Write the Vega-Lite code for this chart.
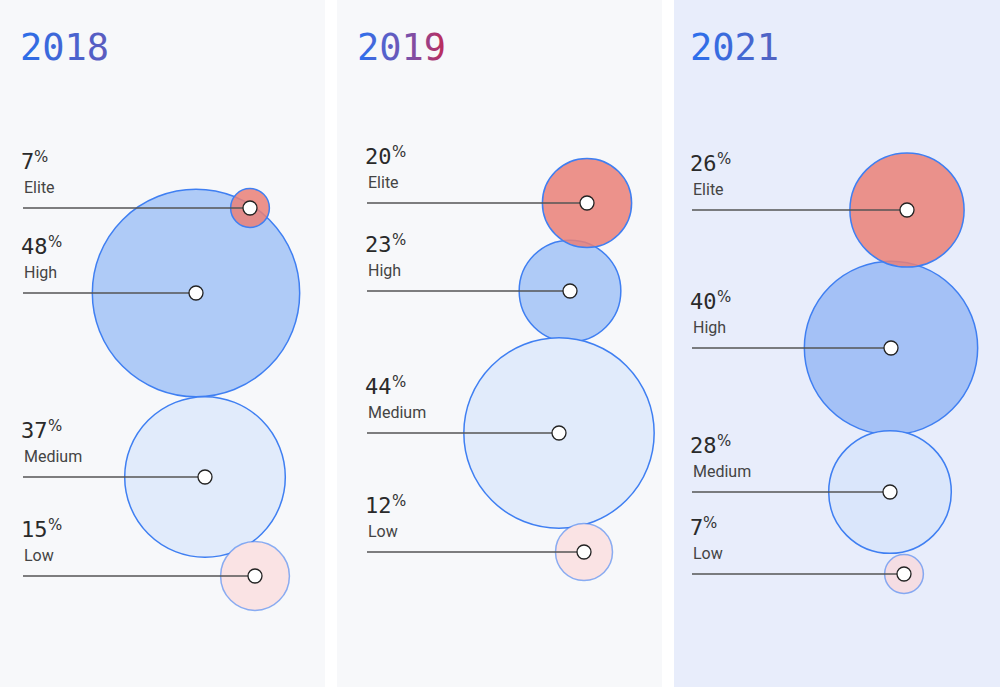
{
  "$schema": "https://vega.github.io/schema/vega-lite/v6.json",
  "background": "white",
  "padding": 0,
  "spacing": 12,
  "bounds": "flush",
  "config": {"view": {"stroke": null}},
  "resolve": {"scale": {"color": "independent", "size": "shared"}},
  "datasets": {
    "rows": [
      {"year": "2018", "level": "Elite", "pct": 7, "cx": 250, "cy": 208},
      {"year": "2018", "level": "High", "pct": 48, "cx": 196, "cy": 293},
      {"year": "2018", "level": "Medium", "pct": 37, "cx": 205, "cy": 477},
      {"year": "2018", "level": "Low", "pct": 15, "cx": 255, "cy": 576},
      {"year": "2019", "level": "Elite", "pct": 20, "cx": 250, "cy": 203},
      {"year": "2019", "level": "High", "pct": 23, "cx": 233, "cy": 291},
      {"year": "2019", "level": "Medium", "pct": 44, "cx": 222, "cy": 433},
      {"year": "2019", "level": "Low", "pct": 12, "cx": 247, "cy": 552},
      {"year": "2021", "level": "Elite", "pct": 26, "cx": 233, "cy": 210},
      {"year": "2021", "level": "High", "pct": 40, "cx": 217, "cy": 348},
      {"year": "2021", "level": "Medium", "pct": 28, "cx": 216, "cy": 492},
      {"year": "2021", "level": "Low", "pct": 7, "cx": 230, "cy": 574}
    ],
    "years": [{"year": "2018"}, {"year": "2019"}, {"year": "2021"}]
  },
  "hconcat": [
    {
      "width": 325, "height": 687,
      "view": {"fill": "#f7f8fa", "stroke": null},
      "data": {"name": "rows"},
      "transform": [{"filter": "datum.year == '2018'"}],
      "layer": [
        {
          "transform": [{"filter": "datum.level == 'High' || datum.level == 'Medium'"}],
          "mark": {"type": "circle", "opacity": 1, "fillOpacity": 1, "stroke": "#3f7ff2", "strokeWidth": 1.5},
          "encoding": {
            "x": {"field": "cx", "type": "quantitative", "scale": {"domain": [0, 325], "nice": false, "zero": false}, "axis": null},
            "y": {"field": "cy", "type": "quantitative", "scale": {"domain": [0, 687], "nice": false, "zero": false, "reverse": true}, "axis": null},
            "size": {"field": "pct", "type": "quantitative", "scale": {"type": "pow", "exponent": 2, "domain": [0, 48], "range": [600, 43000]}, "legend": null},
            "color": {"field": "level", "type": "nominal", "scale": {"domain": ["High", "Medium", "Low"], "range": ["#afcbf7", "#e1ebfb", "#fae3e4"]}, "legend": null}
          }
        },
        {
          "transform": [{"filter": "datum.level == 'Low'"}],
          "mark": {"type": "circle", "opacity": 1, "fillOpacity": 1, "stroke": "#3f7ff2", "strokeOpacity": 0.6, "strokeWidth": 1.5},
          "encoding": {
            "x": {"field": "cx", "type": "quantitative"},
            "y": {"field": "cy", "type": "quantitative"},
            "size": {"field": "pct", "type": "quantitative"},
            "color": {"field": "level", "type": "nominal"}
          }
        },
        {
          "transform": [{"filter": "datum.level == 'Elite'"}],
          "mark": {"type": "circle", "opacity": 1, "color": "#ea8077", "fillOpacity": 0.85, "stroke": "#3f7ff2", "strokeWidth": 1.5},
          "encoding": {
            "x": {"field": "cx", "type": "quantitative"},
            "y": {"field": "cy", "type": "quantitative"},
            "size": {"field": "pct", "type": "quantitative"}
          }
        },
        {
          "mark": {"type": "rule", "color": "#555555", "strokeWidth": 1.6},
          "encoding": {
            "x": {"field": "cx", "type": "quantitative"},
            "x2": {"datum": 23},
            "y": {"field": "cy", "type": "quantitative"}
          }
        },
        {
          "mark": {"type": "circle", "fill": "white", "opacity": 1, "stroke": "#222222", "strokeWidth": 1.3, "size": 196},
          "encoding": {
            "x": {"field": "cx", "type": "quantitative"},
            "y": {"field": "cy", "type": "quantitative"}
          }
        },
        {
          "mark": {"type": "text", "align": "left", "baseline": "alphabetic", "dy": -39, "font": "DejaVu Sans Mono", "fontSize": 22, "color": "#2a2a2a"},
          "encoding": {
            "x": {"datum": 21, "type": "quantitative"},
            "y": {"field": "cy", "type": "quantitative"},
            "text": {"field": "pct", "type": "quantitative"}
          }
        },
        {
          "transform": [{"filter": "datum.pct >= 10"}],
          "mark": {"type": "text", "align": "left", "baseline": "alphabetic", "dy": -46, "font": "DejaVu Sans", "fontSize": 15, "color": "#333333"},
          "encoding": {
            "x": {"datum": 48, "type": "quantitative"},
            "y": {"field": "cy", "type": "quantitative"},
            "text": {"value": "%"}
          }
        },
        {
          "transform": [{"filter": "datum.pct < 10"}],
          "mark": {"type": "text", "align": "left", "baseline": "alphabetic", "dy": -46, "font": "DejaVu Sans", "fontSize": 15, "color": "#333333"},
          "encoding": {
            "x": {"datum": 34, "type": "quantitative"},
            "y": {"field": "cy", "type": "quantitative"},
            "text": {"value": "%"}
          }
        },
        {
          "mark": {"type": "text", "align": "left", "baseline": "alphabetic", "dy": -15, "font": "Roboto", "fontSize": 16, "color": "#444444"},
          "encoding": {
            "x": {"datum": 24, "type": "quantitative"},
            "y": {"field": "cy", "type": "quantitative"},
            "text": {"field": "level", "type": "nominal"}
          }
        },
        {
          "data": {"name": "years"},
          "transform": [{"filter": "datum.year == '2018'"}],
          "mark": {"type": "text", "align": "left", "baseline": "alphabetic", "font": "DejaVu Sans Mono", "fontSize": 37,
            "color": {"gradient": "linear", "x1": 0, "y1": 0, "x2": 1, "y2": 0, "stops": [{"offset": 0, "color": "#2b6fea"}, {"offset": 1, "color": "#5d5bbd"}]}},
          "encoding": {
            "x": {"datum": 20, "type": "quantitative"},
            "y": {"datum": 60, "type": "quantitative"},
            "text": {"field": "year", "type": "nominal"}
          }
        }
      ]
    },
    {
      "width": 325, "height": 687,
      "view": {"fill": "#f7f8fa", "stroke": null},
      "data": {"name": "rows"},
      "transform": [{"filter": "datum.year == '2019'"}],
      "layer": [
        {
          "transform": [{"filter": "datum.level == 'High' || datum.level == 'Medium'"}],
          "mark": {"type": "circle", "opacity": 1, "fillOpacity": 1, "stroke": "#3f7ff2", "strokeWidth": 1.5},
          "encoding": {
            "x": {"field": "cx", "type": "quantitative", "scale": {"domain": [0, 325], "nice": false, "zero": false}, "axis": null},
            "y": {"field": "cy", "type": "quantitative", "scale": {"domain": [0, 687], "nice": false, "zero": false, "reverse": true}, "axis": null},
            "size": {"field": "pct", "type": "quantitative", "scale": {"type": "pow", "exponent": 2, "domain": [0, 48], "range": [600, 43000]}, "legend": null},
            "color": {"field": "level", "type": "nominal", "scale": {"domain": ["High", "Medium", "Low"], "range": ["#afcbf7", "#e1ebfb", "#fae3e4"]}, "legend": null}
          }
        },
        {
          "transform": [{"filter": "datum.level == 'Low'"}],
          "mark": {"type": "circle", "opacity": 1, "fillOpacity": 1, "stroke": "#3f7ff2", "strokeOpacity": 0.6, "strokeWidth": 1.5},
          "encoding": {
            "x": {"field": "cx", "type": "quantitative"},
            "y": {"field": "cy", "type": "quantitative"},
            "size": {"field": "pct", "type": "quantitative"},
            "color": {"field": "level", "type": "nominal"}
          }
        },
        {
          "transform": [{"filter": "datum.level == 'Elite'"}],
          "mark": {"type": "circle", "opacity": 1, "color": "#ea8077", "fillOpacity": 0.85, "stroke": "#3f7ff2", "strokeWidth": 1.5},
          "encoding": {
            "x": {"field": "cx", "type": "quantitative"},
            "y": {"field": "cy", "type": "quantitative"},
            "size": {"field": "pct", "type": "quantitative"}
          }
        },
        {
          "mark": {"type": "rule", "color": "#555555", "strokeWidth": 1.6},
          "encoding": {
            "x": {"field": "cx", "type": "quantitative"},
            "x2": {"datum": 30},
            "y": {"field": "cy", "type": "quantitative"}
          }
        },
        {
          "mark": {"type": "circle", "fill": "white", "opacity": 1, "stroke": "#222222", "strokeWidth": 1.3, "size": 196},
          "encoding": {
            "x": {"field": "cx", "type": "quantitative"},
            "y": {"field": "cy", "type": "quantitative"}
          }
        },
        {
          "mark": {"type": "text", "align": "left", "baseline": "alphabetic", "dy": -39, "font": "DejaVu Sans Mono", "fontSize": 22, "color": "#2a2a2a"},
          "encoding": {
            "x": {"datum": 28, "type": "quantitative"},
            "y": {"field": "cy", "type": "quantitative"},
            "text": {"field": "pct", "type": "quantitative"}
          }
        },
        {
          "transform": [{"filter": "datum.pct >= 10"}],
          "mark": {"type": "text", "align": "left", "baseline": "alphabetic", "dy": -46, "font": "DejaVu Sans", "fontSize": 15, "color": "#333333"},
          "encoding": {
            "x": {"datum": 55, "type": "quantitative"},
            "y": {"field": "cy", "type": "quantitative"},
            "text": {"value": "%"}
          }
        },
        {
          "transform": [{"filter": "datum.pct < 10"}],
          "mark": {"type": "text", "align": "left", "baseline": "alphabetic", "dy": -46, "font": "DejaVu Sans", "fontSize": 15, "color": "#333333"},
          "encoding": {
            "x": {"datum": 41, "type": "quantitative"},
            "y": {"field": "cy", "type": "quantitative"},
            "text": {"value": "%"}
          }
        },
        {
          "mark": {"type": "text", "align": "left", "baseline": "alphabetic", "dy": -15, "font": "Roboto", "fontSize": 16, "color": "#444444"},
          "encoding": {
            "x": {"datum": 31, "type": "quantitative"},
            "y": {"field": "cy", "type": "quantitative"},
            "text": {"field": "level", "type": "nominal"}
          }
        },
        {
          "data": {"name": "years"},
          "transform": [{"filter": "datum.year == '2019'"}],
          "mark": {"type": "text", "align": "left", "baseline": "alphabetic", "font": "DejaVu Sans Mono", "fontSize": 37,
            "color": {"gradient": "linear", "x1": 0, "y1": 0, "x2": 1, "y2": 0, "stops": [{"offset": 0, "color": "#2a70f0"}, {"offset": 0.35, "color": "#5a60c8"}, {"offset": 0.7, "color": "#8c4898"}, {"offset": 1, "color": "#c02a55"}]}},
          "encoding": {
            "x": {"datum": 20, "type": "quantitative"},
            "y": {"datum": 60, "type": "quantitative"},
            "text": {"field": "year", "type": "nominal"}
          }
        }
      ]
    },
    {
      "width": 326, "height": 687,
      "view": {"fill": "#e8edfb", "stroke": null},
      "data": {"name": "rows"},
      "transform": [{"filter": "datum.year == '2021'"}],
      "layer": [
        {
          "transform": [{"filter": "datum.level == 'High' || datum.level == 'Medium'"}],
          "mark": {"type": "circle", "opacity": 1, "fillOpacity": 1, "stroke": "#3f7ff2", "strokeWidth": 1.5},
          "encoding": {
            "x": {"field": "cx", "type": "quantitative", "scale": {"domain": [0, 326], "nice": false, "zero": false}, "axis": null},
            "y": {"field": "cy", "type": "quantitative", "scale": {"domain": [0, 687], "nice": false, "zero": false, "reverse": true}, "axis": null},
            "size": {"field": "pct", "type": "quantitative", "scale": {"type": "pow", "exponent": 2, "domain": [0, 48], "range": [600, 43000]}, "legend": null},
            "color": {"field": "level", "type": "nominal", "scale": {"domain": ["High", "Medium", "Low"], "range": ["#a4c1f6", "#dae6fb", "#f5dde3"]}, "legend": null}
          }
        },
        {
          "transform": [{"filter": "datum.level == 'Low'"}],
          "mark": {"type": "circle", "opacity": 1, "fillOpacity": 1, "stroke": "#3f7ff2", "strokeOpacity": 0.6, "strokeWidth": 1.5},
          "encoding": {
            "x": {"field": "cx", "type": "quantitative"},
            "y": {"field": "cy", "type": "quantitative"},
            "size": {"field": "pct", "type": "quantitative"},
            "color": {"field": "level", "type": "nominal"}
          }
        },
        {
          "transform": [{"filter": "datum.level == 'Elite'"}],
          "mark": {"type": "circle", "opacity": 1, "color": "#ea8077", "fillOpacity": 0.85, "stroke": "#3f7ff2", "strokeWidth": 1.5},
          "encoding": {
            "x": {"field": "cx", "type": "quantitative"},
            "y": {"field": "cy", "type": "quantitative"},
            "size": {"field": "pct", "type": "quantitative"}
          }
        },
        {
          "mark": {"type": "rule", "color": "#555555", "strokeWidth": 1.6},
          "encoding": {
            "x": {"field": "cx", "type": "quantitative"},
            "x2": {"datum": 18},
            "y": {"field": "cy", "type": "quantitative"}
          }
        },
        {
          "mark": {"type": "circle", "fill": "white", "opacity": 1, "stroke": "#222222", "strokeWidth": 1.3, "size": 196},
          "encoding": {
            "x": {"field": "cx", "type": "quantitative"},
            "y": {"field": "cy", "type": "quantitative"}
          }
        },
        {
          "mark": {"type": "text", "align": "left", "baseline": "alphabetic", "dy": -39, "font": "DejaVu Sans Mono", "fontSize": 22, "color": "#2a2a2a"},
          "encoding": {
            "x": {"datum": 16, "type": "quantitative"},
            "y": {"field": "cy", "type": "quantitative"},
            "text": {"field": "pct", "type": "quantitative"}
          }
        },
        {
          "transform": [{"filter": "datum.pct >= 10"}],
          "mark": {"type": "text", "align": "left", "baseline": "alphabetic", "dy": -46, "font": "DejaVu Sans", "fontSize": 15, "color": "#333333"},
          "encoding": {
            "x": {"datum": 43, "type": "quantitative"},
            "y": {"field": "cy", "type": "quantitative"},
            "text": {"value": "%"}
          }
        },
        {
          "transform": [{"filter": "datum.pct < 10"}],
          "mark": {"type": "text", "align": "left", "baseline": "alphabetic", "dy": -46, "font": "DejaVu Sans", "fontSize": 15, "color": "#333333"},
          "encoding": {
            "x": {"datum": 29, "type": "quantitative"},
            "y": {"field": "cy", "type": "quantitative"},
            "text": {"value": "%"}
          }
        },
        {
          "mark": {"type": "text", "align": "left", "baseline": "alphabetic", "dy": -15, "font": "Roboto", "fontSize": 16, "color": "#444444"},
          "encoding": {
            "x": {"datum": 19, "type": "quantitative"},
            "y": {"field": "cy", "type": "quantitative"},
            "text": {"field": "level", "type": "nominal"}
          }
        },
        {
          "data": {"name": "years"},
          "transform": [{"filter": "datum.year == '2021'"}],
          "mark": {"type": "text", "align": "left", "baseline": "alphabetic", "font": "DejaVu Sans Mono", "fontSize": 37,
            "color": {"gradient": "linear", "x1": 0, "y1": 0, "x2": 1, "y2": 0, "stops": [{"offset": 0, "color": "#2b70ee"}, {"offset": 1, "color": "#5462c0"}]}},
          "encoding": {
            "x": {"datum": 16, "type": "quantitative"},
            "y": {"datum": 60, "type": "quantitative"},
            "text": {"field": "year", "type": "nominal"}
          }
        }
      ]
    }
  ]
}
